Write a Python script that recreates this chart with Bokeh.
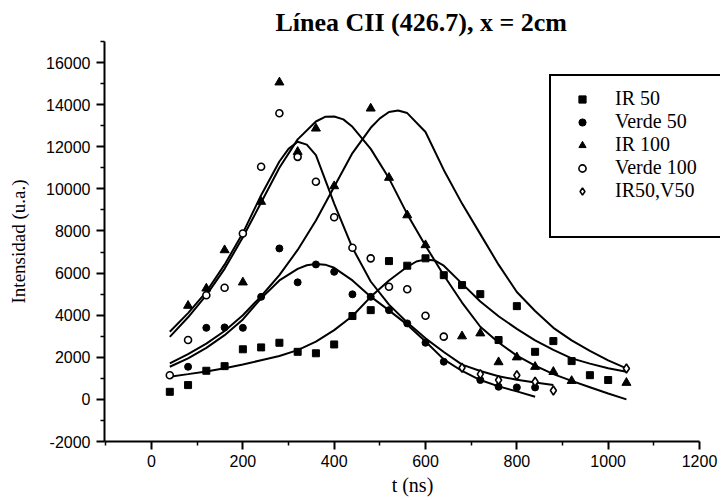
from bokeh.plotting import figure
from bokeh.models import Range1d, FixedTicker, Legend, LegendItem, PrintfTickFormatter
from bokeh.embed import file_html
from bokeh.resources import INLINE

# ---------------- data ----------------
# measured points
ir50_t = [40, 80, 120, 160, 200, 240, 280, 320, 360, 400, 440, 480, 520, 560, 600,
          640, 680, 720, 760, 800, 840, 880, 920, 960, 1000]
ir50_y = [360, 680, 1360, 1580, 2380, 2470, 2690, 2260, 2190, 2610, 3960, 4240, 6570, 6350, 6700,
          5900, 5430, 5000, 2820, 4430, 2260, 2770, 1820, 1150, 920]

verde50_t = [80, 120, 160, 200, 240, 280, 320, 360, 400, 440, 480, 520, 560, 600, 640,
             720, 760, 800, 840]
verde50_y = [1550, 3400, 3420, 3400, 4870, 7170, 5560, 6410, 6060, 4990, 4870, 4240, 3610, 2690, 1790,
             920, 600, 570, 570]

ir100_t = [80, 120, 160, 200, 240, 280, 320, 360, 400, 480, 520, 560, 600, 680, 720,
           760, 800, 840, 880, 920, 1040]
ir100_y = [4450, 5270, 7090, 5560, 9390, 15060, 11760, 12870, 10130, 13820, 10530, 8750, 7330, 3000, 3140,
           1770, 2000, 1550, 1310, 880, 790]

verde100_t = [40, 80, 120, 160, 200, 240, 280, 320, 360, 400, 440, 480, 520, 560, 600, 640]
verde100_y = [1150, 2820, 4950, 5300, 7880, 11050, 13590, 11520, 10340, 8650, 7200, 6700, 5350, 5230, 3970, 2980]

irv50_t = [680, 720, 760, 800, 840, 880, 1040]
irv50_y = [1500, 1200, 920, 1150, 840, 420, 1470]

# fitted curves
fitA_t = [40, 80, 120, 160, 200, 240, 280, 300, 320, 340, 360, 400, 440, 480, 520, 560, 600,
          640, 680, 720, 760, 800, 840, 880]
fitA_y = [3210, 4100, 5110, 6400, 7900, 9700, 11300, 11900, 12240, 12100, 11600, 9300, 7200, 5600, 4500, 3650, 2900,
          2250, 1650, 1350, 1100, 930, 800, 680]

fitB_t = [40, 80, 120, 160, 200, 240, 280, 320, 360, 380, 400, 420, 440, 480, 520, 560, 600,
          640, 680, 720, 760, 800, 840, 880, 920, 960, 1000, 1040]
fitB_y = [2970, 3900, 4950, 6200, 7700, 9350, 11000, 12350, 13200, 13420, 13440, 13300, 12950, 11900, 10500, 8800, 7300,
          5900, 4600, 3450, 2700, 2080, 1600, 1200, 880, 580, 280, 0]

fitC_t = [40, 80, 120, 160, 200, 240, 280, 320, 360, 400, 440, 480, 500, 520, 540, 560, 600,
          640, 680, 720, 760, 800, 840, 880, 920, 960, 1000, 1040]
fitC_y = [1710, 2150, 2650, 3250, 4000, 4900, 5900, 7100, 8500, 10100, 11700, 12900, 13350, 13650, 13720, 13600, 12700,
          10900, 9300, 7850, 6400, 5100, 4200, 3400, 2800, 2300, 1850, 1470]

fitD_t = [40, 80, 120, 160, 200, 240, 280, 320, 340, 360, 380, 400, 440, 480, 520, 560, 600,
          640, 680, 720, 760, 800, 840]
fitD_y = [1550, 1950, 2450, 3050, 3800, 4800, 5650, 6200, 6370, 6430, 6400, 6250, 5650, 4880, 4230, 3550, 2750,
          1900, 1350, 920, 620, 380, 125]

fitE_t = [40, 80, 120, 160, 200, 240, 280, 320, 360, 400, 440, 480, 520, 560, 580, 600, 620,
          640, 680, 720, 760, 800, 840, 880, 920, 960, 1000, 1040]
fitE_y = [1075, 1200, 1330, 1480, 1660, 1860, 2060, 2340, 2740, 3290, 3960, 4870, 5650, 6300, 6550, 6650, 6600,
          6350, 5500, 4650, 3950, 3350, 2800, 2350, 1950, 1700, 1480, 1310]

x_major = [0, 200, 400, 600, 800, 1000, 1200]
x_minor = [-100, 100, 300, 500, 700, 900, 1100]
y_major = [-2000, 0, 2000, 4000, 6000, 8000, 10000, 12000, 14000, 16000]
y_minor = [-1000, 1000, 3000, 5000, 7000, 9000, 11000, 13000, 15000, 17000]

legend_labels = ["IR 50", "Verde 50", "IR 100", "Verde 100", "IR50,V50"]

# ---------------- figure ----------------
p = figure(width=721, height=500, x_range=Range1d(-103, 1246), y_range=Range1d(-2000, 17000),
           output_backend="svg", toolbar_location=None,
           min_border_left=104, min_border_right=1, min_border_top=41, min_border_bottom=59)
p.outline_line_color = None
p.grid.visible = False
p.background_fill_color = "white"
p.border_fill_color = "white"

p.title.text = "Línea CII (426.7), x = 2cm"
p.title.text_font = "Liberation Serif"
p.title.text_font_style = "bold"
p.title.text_font_size = "26px"
p.title.align = "left"
p.title.offset = 171
p.title.text_color = "black"

for ax in (p.xaxis[0], p.yaxis[0]):
    ax.axis_line_width = 2
    ax.axis_line_color = "black"
    ax.major_tick_line_width = 2
    ax.minor_tick_line_width = 1.5
    ax.major_tick_out = 8
    ax.major_tick_in = 0
    ax.minor_tick_out = 4
    ax.minor_tick_in = 0
    ax.major_label_text_font = "Liberation Sans"
    ax.major_label_text_font_size = "16px"
    ax.major_label_text_color = "black"
    ax.axis_label_text_font = "Liberation Serif"
    ax.axis_label_text_font_style = "normal"
    ax.axis_label_text_color = "black"
    ax.formatter = PrintfTickFormatter(format="%d")

p.xaxis.bounds = (-103, 1200)
p.xaxis.ticker = FixedTicker(ticks=x_major, minor_ticks=x_minor)
p.yaxis.ticker = FixedTicker(ticks=y_major, minor_ticks=y_minor)
p.xaxis.axis_label = "t (ns)"
p.yaxis.axis_label = "Intensidad (u.a.)"
p.xaxis.axis_label_text_font_size = "20px"
p.yaxis.axis_label_text_font_size = "19px"
p.xaxis.major_label_standoff = 5
p.yaxis.major_label_standoff = 6
p.xaxis.axis_label_standoff = 4
p.yaxis.axis_label_standoff = 14

for t, y in [(fitA_t, fitA_y), (fitB_t, fitB_y), (fitC_t, fitC_y), (fitD_t, fitD_y), (fitE_t, fitE_y)]:
    p.line(t, y, line_color="black", line_width=2)

r1 = p.scatter(ir50_t, ir50_y, marker="square", size=7, color="black")
r2 = p.scatter(verde50_t, verde50_y, marker="circle", size=7, color="black")
r3 = p.scatter(ir100_t, ir100_y, marker="triangle", size=9, color="black")
r4 = p.scatter(verde100_t, verde100_y, marker="circle", size=7, line_color="black",
               fill_color="white", line_width=1.6)
r5 = p.scatter(irv50_t, irv50_y, marker="diamond", size=9, line_color="black",
               fill_color="white", line_width=1.6)
dummy = p.scatter(x=[], y=[], marker="circle", size=0, alpha=0)

items = [LegendItem(label=lab, renderers=[r]) for lab, r in zip(legend_labels, [r1, r2, r3, r4, r5])]
items.append(LegendItem(label=" ", renderers=[dummy]))
legend = Legend(items=items, location=(445, 203), margin=0, padding=11, spacing=0,
                glyph_height=18, glyph_width=40, label_height=23, label_standoff=13, label_width=94,
                label_text_font="Liberation Serif", label_text_font_size="20px",
                label_text_color="black",
                border_line_color="black", border_line_width=2, border_line_alpha=1.0,
                background_fill_color="white", background_fill_alpha=1.0)
p.add_layout(legend)

open("out.html", "w").write(file_html(p, INLINE))
